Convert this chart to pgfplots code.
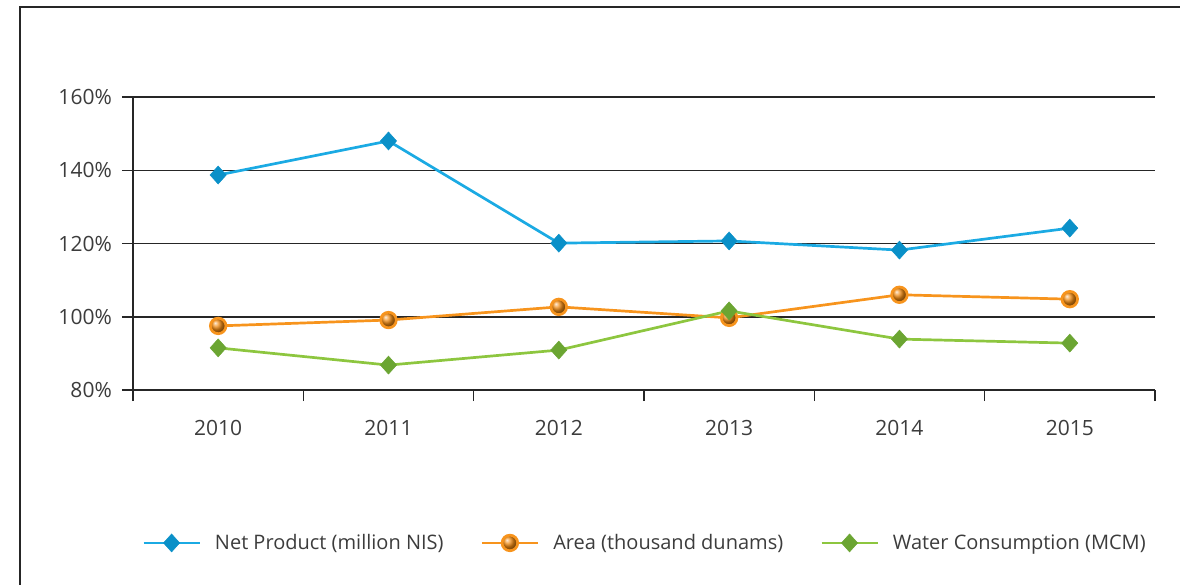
\documentclass[border=0pt]{standalone}
\usepackage{pgfplots}
\pgfplotsset{compat=1.18}
\usepackage{fontspec}
\setmainfont{Open Sans}

\definecolor{txtgray}{HTML}{3C3C3C}
\definecolor{frame}{HTML}{262626}
\definecolor{netline}{HTML}{1BAAE3}
\definecolor{netmark}{HTML}{0A90C8}
\definecolor{arealine}{HTML}{F7941D}
\definecolor{areamark}{HTML}{F08A12}
\definecolor{waterline}{HTML}{8DC63F}
\definecolor{watermark}{HTML}{6BA532}

\begin{document}
\begin{tikzpicture}[font=\fontsize{21bp}{25bp}\selectfont, text=txtgray]
\begin{axis}[
    scale only axis,
    width=1022bp, height=293bp,
    xmin=-0.5, xmax=5.5,
    ymin=80, ymax=160,
    axis x line=bottom, axis y line=left,
    axis line style={-, draw=frame, line width=1.5bp},
    xtick={-0.5,0.5,...,5.5},
    xticklabels={2010,2011,2012,2013,2014,2015},
    x tick label as interval,
    ytick={80,100,...,160},
    yticklabel={\pgfmathprintnumber{\tick}\%},
    /pgf/number format/assume math mode=true,
    tick align=outside,
    major tick length=11bp,
    tick style={draw=frame, line width=1.5bp},
    ymajorgrids,
    major grid style={draw=frame, line width=1.5bp},
    yticklabel style={anchor=east, inner sep=0pt, xshift=-10bp},
    xticklabel style={anchor=north, inner sep=0pt, yshift=-19bp},
    legend style={at={(0.5,-0.522)}, anchor=center, draw=none, fill=none,
        legend columns=3, font=\fontsize{20bp}{24bp}\selectfont,
        /tikz/every even column/.append style={column sep=37bp},
        nodes={inner sep=0pt, text=txtgray}},
    legend image code/.code={%
        \draw[mark repeat=2, mark phase=2, #1] plot coordinates {(0bp,0bp) (28bp,0bp) (56bp,0bp)};
        \path (70bp,0bp);},
    legend cell align=left,
]
\addplot[netline, line width=2.7bp, mark=diamond*, mark size=9bp,
    mark options={fill=netmark, draw=netmark, line width=0.5bp, xscale=1.2}]
    coordinates {(0,138.7) (1,148.0) (2,120.1) (3,120.7) (4,118.2) (5,124.2)};
\addlegendentry{Net Product (million NIS)}
\addplot[arealine, line width=2.7bp, mark=ball, mark size=7.8bp,
    mark options={ball color=areamark, draw=none}]
    coordinates {(0,97.5) (1,99.1) (2,102.7) (3,99.7) (4,106.0) (5,104.8)};
\addlegendentry{Area (thousand dunams)}
\addplot[waterline, line width=2.7bp, mark=diamond*, mark size=9bp,
    mark options={fill=watermark, draw=watermark, line width=0.5bp, xscale=1.2}]
    coordinates {(0,91.5) (1,86.8) (2,90.9) (3,101.6) (4,93.9) (5,92.8)};
\addlegendentry{Water Consumption (MCM)}
\end{axis}
\draw[frame, line width=1.5bp]
    ([shift={(-113bp,-200bp)}]current axis.south west)
    -- ([shift={(-113bp,383bp)}]current axis.south west)
    -- ([shift={(1060bp,383bp)}]current axis.south west);
\pgfresetboundingbox
\path[use as bounding box] ([shift={(-133bp,-195bp)}]current axis.south west)
    rectangle ++(1180bp,585bp);
\end{tikzpicture}
\end{document}
